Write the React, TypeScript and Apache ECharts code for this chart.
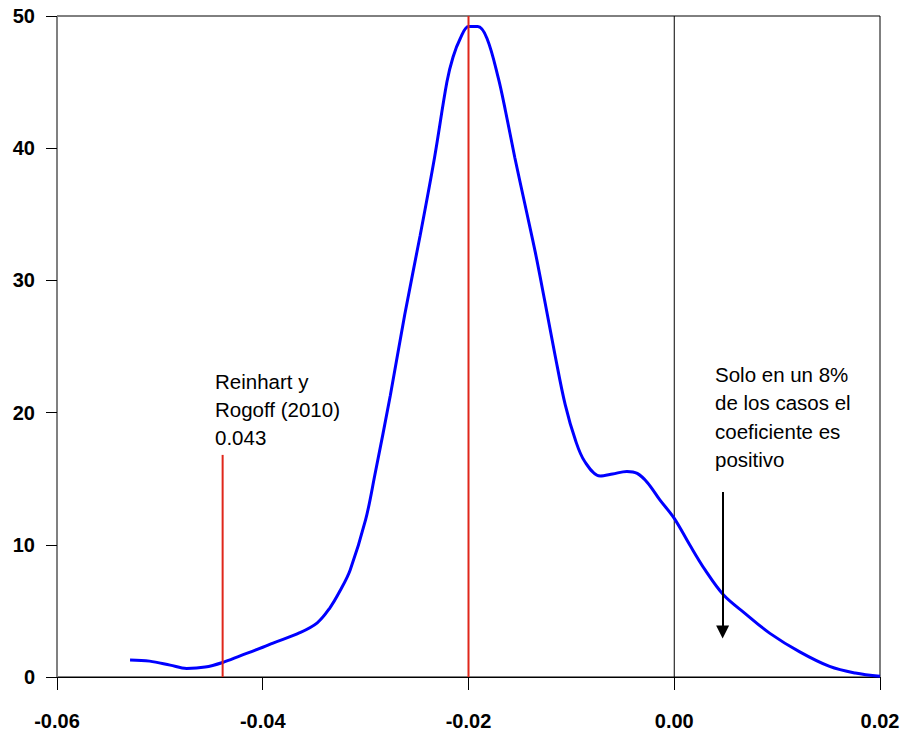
import React, { useEffect, useRef } from "react";
import * as echarts from "echarts";

const densityX = [
  -0.0529, -0.051, -0.049, -0.0474, -0.0456, -0.0439, -0.0422, -0.04, -0.039, -0.0364,
  -0.0347, -0.0335, -0.0325, -0.0315, -0.03, -0.0291, -0.0276, -0.0262, -0.0247, -0.0233,
  -0.0221, -0.0215, -0.0208, -0.02, -0.0191, -0.0182, -0.0171, -0.0164, -0.0155, -0.0145,
  -0.0135, -0.0126, -0.0116, -0.0106, -0.0096, -0.0087, -0.0072, -0.006, -0.0046, -0.0036,
  -0.0026, -0.0014, 0.0, 0.0015, 0.003, 0.0048, 0.0069, 0.0093, 0.0122, 0.0151, 0.0176, 0.02,
];
const densityY = [
  1.29, 1.2, 0.9, 0.65, 0.75, 1.1, 1.6, 2.25, 2.57, 3.35,
  4.1, 5.2, 6.5, 8.1, 11.9, 15.3, 21.3, 27.4, 33.4, 39.3,
  45.0, 46.9, 48.3, 49.2, 49.2, 48.3, 45.3, 42.8, 39.3, 35.7,
  32.1, 28.5, 24.4, 20.6, 17.9, 16.3, 15.2, 15.35, 15.55, 15.4,
  14.7, 13.4, 12.0, 10.0, 8.1, 6.2, 4.8, 3.3, 1.9, 0.8, 0.3, 0.05,
];

const reinhartLine: [number, number][] = [[-0.0439, 0], [-0.0439, 16.8]];
const modeLine: [number, number][] = [[-0.02, 0], [-0.02, 50]];
const zeroLine: [number, number][] = [[0, 0], [0, 50]];
const arrowX = 0.0047;
const arrowY = [14.0, 3.4];

const xTicks = { min: -0.06, max: 0.02, interval: 0.02 };
const yTicks = { min: 0, max: 50, interval: 10 };

const reinhartText = "Reinhart y\nRogoff (2010)\n0.043";
const positiveText = "Solo en un 8%\nde los casos el\ncoeficiente es\npositivo";

export default function App() {
  const ref = useRef<HTMLDivElement>(null);
  useEffect(() => {
    if (!ref.current) return;
    const chart = echarts.init(ref.current, null, { renderer: "svg" });
    const font = "Liberation Sans, Arial, Helvetica, sans-serif";
    chart.setOption({
      animation: false,
      backgroundColor: "#ffffff",
      grid: {
        left: 57,
        right: 23,
        top: 16,
        bottom: 55,
        show: true,
        borderColor: "#000000",
        borderWidth: 1,
      },
      xAxis: {
        type: "value",
        min: xTicks.min,
        max: xTicks.max,
        interval: xTicks.interval,
        splitLine: { show: false },
        axisLine: { show: true, onZero: false, lineStyle: { color: "#000000", width: 1 } },
        axisTick: { show: true, inside: false, length: 13, lineStyle: { color: "#000000" } },
        axisLabel: {
          margin: 34,
          color: "#000000",
          fontFamily: font,
          fontWeight: "bold",
          fontSize: 20,
          formatter: (v: number) => v.toFixed(2),
        },
      },
      yAxis: {
        type: "value",
        min: yTicks.min,
        max: yTicks.max,
        interval: yTicks.interval,
        splitLine: { show: false },
        axisLine: { show: true, onZero: false, lineStyle: { color: "#808080", width: 1 } },
        axisTick: { show: true, inside: false, length: 11, lineStyle: { color: "#000000" } },
        axisLabel: {
          margin: 22,
          color: "#000000",
          fontFamily: font,
          fontWeight: "bold",
          fontSize: 20,
        },
      },
      series: [
        {
          type: "line",
          data: zeroLine,
          symbol: "none",
          lineStyle: { color: "#000000", width: 1 },
          silent: true,
        },
        {
          type: "line",
          data: densityX.map((x, i) => [x, densityY[i]]),
          smooth: 0.35,
          symbol: "none",
          lineStyle: { color: "#0000ff", width: 3 },
          z: 3,
        },
        {
          type: "line",
          data: reinhartLine,
          symbol: "none",
          lineStyle: { color: "#e0261a", width: 2 },
          z: 4,
        },
        {
          type: "line",
          data: modeLine,
          symbol: "none",
          lineStyle: { color: "#e0261a", width: 2 },
          z: 4,
        },
        {
          type: "line",
          data: [],
          markLine: {
            silent: true,
            symbol: ["none", "triangle"],
            symbolSize: 13,
            label: { show: false },
            lineStyle: { color: "#000000", width: 2, type: "solid" },
            data: [[{ coord: [arrowX, arrowY[0]] }, { coord: [arrowX, arrowY[1]] }]],
          },
          z: 5,
        },
      ],
      graphic: [
        {
          type: "text",
          left: 215,
          top: 367,
          style: {
            text: reinhartText,
            fontFamily: font,
            fontSize: 20.5,
            lineHeight: 28,
            fill: "#000000",
          },
        },
        {
          type: "text",
          left: 715,
          top: 360,
          style: {
            text: positiveText,
            fontFamily: font,
            fontSize: 20.5,
            lineHeight: 28.5,
            fill: "#000000",
          },
        },
      ],
    });
    return () => chart.dispose();
  }, []);
  return (
    <div
      ref={ref}
      style={{ position: "fixed", left: 0, top: 0, width: 903, height: 732 }}
    />
  );
}
